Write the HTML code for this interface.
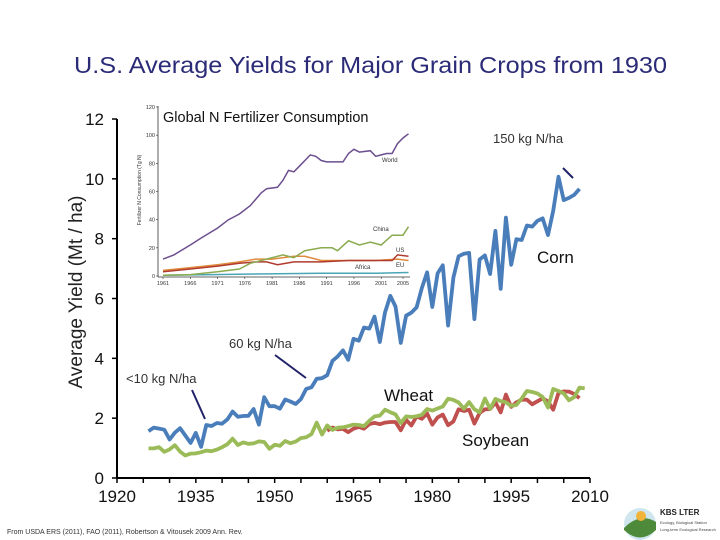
<!DOCTYPE html>
<html><head><meta charset="utf-8"><style>
body{margin:0;background:#fff;}
svg{display:block;font-family:"Liberation Sans",sans-serif;}
</style></head><body>
<svg id="chart" width="720" height="540" viewBox="0 0 720 540" xmlns="http://www.w3.org/2000/svg">
<text x="74" y="73" font-size="23" fill="#2b2b78" textLength="593" lengthAdjust="spacingAndGlyphs">U.S. Average Yields for Major Grain Crops from 1930</text>
<g id="main"></g>
<g id="inset"></g>
<text transform="translate(82,292) rotate(-90)" text-anchor="middle" font-size="19" fill="#222">Average Yield (Mt / ha)</text>
<text x="537" y="263" font-size="17" fill="#111">Corn</text>
<text x="384" y="401" font-size="17" fill="#111">Wheat</text>
<text x="462" y="446" font-size="17" fill="#111">Soybean</text>
<text x="493" y="143" font-size="13" fill="#333">150 kg N/ha</text>
<line x1="563" y1="168" x2="573" y2="178" stroke="#22226a" stroke-width="2"/>
<text x="229" y="348" font-size="13" fill="#333">60 kg N/ha</text>
<line x1="275" y1="355" x2="306" y2="378" stroke="#22226a" stroke-width="2"/>
<text x="126" y="383" font-size="13" fill="#333">&lt;10 kg N/ha</text>
<line x1="192" y1="390" x2="205" y2="419" stroke="#22226a" stroke-width="2"/>
<text x="7" y="534" font-size="7" fill="#333">From USDA ERS (2011), FAO (2011), Robertson &amp; Vitousek 2009 Ann. Rev.</text>
<g>
<circle cx="640" cy="524" r="16" fill="#cfe6ee"/>
<path d="M624,528 Q640,512 656,522 L656,530 Q640,545 624,530Z" fill="#4d8a3a"/>
<circle cx="641" cy="516" r="5" fill="#f2b33a"/>
<text x="660" y="515" font-size="8" font-weight="bold" fill="#222">KBS LTER</text>
<text x="660" y="524" font-size="4" fill="#444">Ecology, Biological Station</text>
<text x="660" y="531" font-size="4" fill="#444">Long-term Ecological Research</text>
</g>
</svg>
<script>
const NS="http://www.w3.org/2000/svg";
const cornYears=[];for(let y=1926;y<=2008;y++)cornYears.push(y);
const cornBu=[24.9,26.8,26.3,25.7,20.5,24.1,26.5,22.6,18.7,24.0,16.6,28.2,27.7,29.3,28.9,31.2,35.4,32.6,33.0,33.1,36.7,28.4,43.0,38.2,38.2,36.9,41.8,40.7,39.4,42.0,47.4,48.3,52.8,53.1,54.7,62.4,64.7,67.9,62.9,74.1,73.1,80.1,79.5,85.9,72.4,88.1,97.0,91.3,71.9,86.4,88.0,90.8,101.0,109.5,91.0,108.9,113.2,81.1,106.7,118.0,119.4,119.8,84.6,116.3,118.5,108.6,131.5,100.7,138.6,113.5,127.1,126.7,134.4,133.8,136.9,138.2,129.3,142.2,160.3,147.9,149.1,150.7,153.9];
const wheatYears=[];for(let y=1926;y<=2009;y++)wheatYears.push(y);
const wheatBu=[14.7,14.7,15.3,13.0,14.2,16.3,13.1,11.2,12.1,12.2,12.8,13.6,13.3,14.1,15.3,16.8,19.5,16.4,17.7,17.0,17.2,18.2,17.9,14.5,16.5,16.0,18.4,17.3,18.1,19.8,20.2,21.8,27.5,21.6,26.1,23.9,25.0,25.2,25.8,26.5,26.3,25.8,28.4,30.6,31.0,33.9,32.7,31.6,27.3,30.6,30.3,30.7,31.4,34.2,33.5,34.5,35.5,39.4,38.8,37.5,34.4,37.7,34.1,32.7,39.5,34.3,39.3,38.2,37.6,35.8,36.3,39.5,43.2,42.7,42.0,40.2,35.0,44.2,43.2,42.0,38.6,40.2,44.9,44.5];
const soyYears=[];for(let y=1960;y<=2008;y++)soyYears.push(y);
const soyBu=[23.5,25.1,24.2,24.4,22.8,24.5,25.4,24.5,26.7,27.4,26.7,27.5,27.8,27.8,23.7,28.9,26.1,30.6,29.4,32.1,26.5,30.1,31.5,26.2,28.1,34.1,33.3,33.9,27.0,32.3,34.1,34.2,37.6,32.6,41.4,35.3,37.6,38.9,38.9,36.6,38.1,39.6,38.0,33.9,42.2,43.0,42.9,41.7,39.7];
const xTicks=[1920,1935,1950,1965,1980,1995,2010];
const yTicks=[0,2,4,6,8,10,12];
const worldYears=[1961,1963,1966,1968,1971,1973,1975,1977,1979,1980,1982,1983,1984,1985,1986,1988,1989,1990,1991,1993,1994,1995,1996,1997,1999,2000,2002,2003,2004,2005,2006];
const worldVals=[12,15,22,27,34,40,44,50,59,62,63,68,75,74,78,86,85,82,81,81,81,87,90,88,89,85,87,87,94,98,101];
const chinaYears=[1961,1966,1971,1973,1975,1977,1980,1983,1985,1987,1990,1992,1993,1995,1997,1999,2001,2003,2005,2006];
const chinaVals=[0.5,1,3,4,5,9,12,15,13,18,20,20,18,25,22,24,22,29,29,35];
const usYears=[1961,1966,1971,1975,1978,1980,1982,1985,1990,1995,2000,2003,2004,2006];
const usVals=[3,5,7,9,10,10,8,10,10,11,11,11,15,14];
const euYears=[1961,1966,1971,1975,1978,1981,1985,1987,1990,1995,2000,2004,2006];
const euVals=[4,6,8,10,12,12,14,14,11,11,11,12,11];
const africaYears=[1961,1970,1980,1990,2000,2006];
const africaVals=[0.5,1,1.5,2,2,2.5];
const insetXTicks=[1961,1966,1971,1976,1981,1986,1991,1996,2001,2005];
const insetYTicks=[0,20,40,60,80,100,120];

const X=y=>117+(y-1920)*(590-117)/90;
const Y=v=>478-v*(478-119)/12;
const IX=y=>163+(y-1961)*(403-163)/44;
const IY=v=>276-v*(276-107)/120;
function mk(tag,attrs,parent){const e=document.createElementNS(NS,tag);for(const k in attrs)e.setAttribute(k,attrs[k]);parent.appendChild(e);return e;}
const main=document.getElementById('main'),inset=document.getElementById('inset');
let ax=mk('line',{x1:117,y1:119,x2:117,y2:478,stroke:'#000','stroke-width':2},main);


ax=mk('line',{x1:117,y1:478,x2:590,y2:478,stroke:'#000','stroke-width':2},main);


for(let yr=1920;yr<=2010;yr+=5){const t=mk('line',{x1:X(yr),y1:478,x2:X(yr),y2:483,stroke:'#000','stroke-width':1.5},main);

}
xTicks.forEach(v=>{const t=mk('text',{x:X(v),y:502,'text-anchor':'middle','font-size':17,fill:'#111'},main);t.textContent=v;

});
yTicks.forEach(v=>{mk('line',{x1:112,y1:Y(v),x2:117,y2:Y(v),stroke:'#000','stroke-width':1.5},main);
const t=mk('text',{x:104,y:Y(v)+6,'text-anchor':'end','font-size':17,fill:'#111'},main);t.textContent=v;

});
function series(xs,vs,conv,color,name){const d=xs.map((x,i)=>(i?'L':'M')+X(x).toFixed(1)+','+Y(vs[i]*conv).toFixed(1)).join('');
const p=mk('path',{d:d,fill:'none',stroke:color,'stroke-width':3.8,'stroke-linejoin':'round'},main);

}
series(cornYears,cornBu,0.0628,'#4a7ebb','corn-line');
series(soyYears,soyBu,0.0673,'#c0504d','soybean-line');
series(wheatYears,wheatBu,0.0673,'#9bbb59','wheat-line');
let ia=mk('line',{x1:158,y1:106,x2:158,y2:277,stroke:'#333','stroke-width':0.8},inset);


ia=mk('line',{x1:158,y1:277,x2:410,y2:277,stroke:'#333','stroke-width':0.8},inset);


insetYTicks.forEach(v=>{mk('line',{x1:156,y1:IY(v),x2:158,y2:IY(v),stroke:'#333','stroke-width':0.6},inset);
const t=mk('text',{x:155,y:IY(v)+2,'text-anchor':'end','font-size':5.5,fill:'#333'},inset);t.textContent=v;

});
insetXTicks.forEach(v=>{mk('line',{x1:IX(v),y1:277,x2:IX(v),y2:279,stroke:'#333','stroke-width':0.6},inset);
const t=mk('text',{x:IX(v),y:285,'text-anchor':'middle','font-size':5.5,fill:'#333'},inset);t.textContent=v;

});
function iseries(xs,vs,color,name){const d=xs.map((x,i)=>(i?'L':'M')+IX(x).toFixed(1)+','+IY(vs[i]).toFixed(1)).join('');
const p=mk('path',{d:d,fill:'none',stroke:color,'stroke-width':1.5},inset);

}
iseries(africaYears,africaVals,'#4aa5b5','inset-africa-line');
iseries(euYears,euVals,'#e08a3c','inset-eu-line');
iseries(usYears,usVals,'#b03a2e','inset-us-line');
iseries(chinaYears,chinaVals,'#8aab4f','inset-china-line');
iseries(worldYears,worldVals,'#6c4f8e','inset-world-line');
const ilabels=[['World',382,162],['China',373,231],['US',396,252],['Africa',355,269],['EU',396,267]];
ilabels.forEach(l=>{const t=mk('text',{x:l[1],y:l[2],'font-size':6,fill:'#333'},inset);t.textContent=l[0];

});
let it=mk('text',{x:163,y:122,'font-size':14.5,fill:'#111'},inset);it.textContent='Global N Fertilizer Consumption';


it=mk('text',{transform:'translate(141,190) rotate(-90)','text-anchor':'middle','font-size':5,fill:'#333'},inset);it.textContent='Fertilizer N Consumption (Tg N)';


</script>
</body></html>
